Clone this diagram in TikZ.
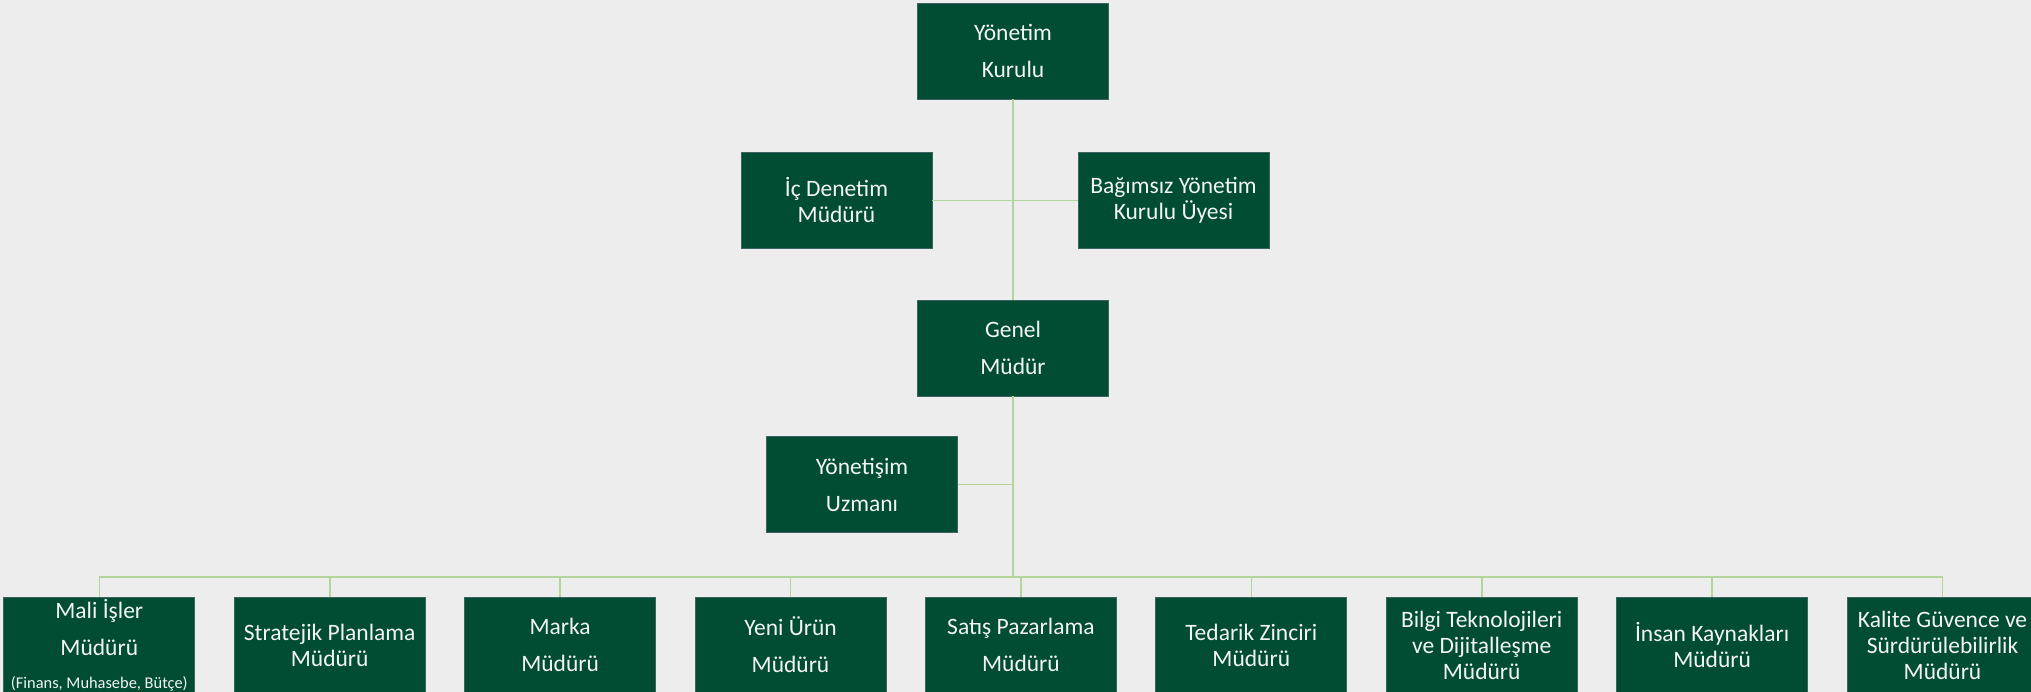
\documentclass[tikz,border=0pt]{standalone}
\usepackage{fontspec}
\setmainfont{Carlito}
\definecolor{boxgreen}{HTML}{004D33}
\definecolor{boxedge}{HTML}{3E6360}
\definecolor{linkgreen}{HTML}{B3D59B}
\definecolor{bgcol}{HTML}{EDEDED}
\definecolor{txtcol}{HTML}{F4F4F4}
\tikzset{
  orgbox/.style={draw=boxedge, line width=0.9pt, fill=boxgreen, text=txtcol,
    minimum width=191pt, minimum height=96pt, inner sep=0pt, align=center},
  tighttext/.style={font=\fontsize{23.5}{26}\selectfont},
  loosetext/.style={font=\fontsize{23.5}{37}\selectfont},
  link/.style={draw=linkgreen, line width=1.6pt}
}
\begin{document}
\begin{tikzpicture}[x=1pt,y=-1pt]
\fill[bgcol] (0,0) rectangle (2031,692);
\useasboundingbox (0,0) rectangle (2031,692);
\begin{scope}
\clip (0,0) rectangle (2031,692);
\coordinate (bus) at (1013,577);
\node[orgbox,loosetext] (yk) at (1013,51) {Yönetim\\Kurulu};
\node[orgbox,tighttext] (icd) at (836.5,200.5) {İç Denetim\\Müdürü};
\node[orgbox,tighttext] (bag) at (1173.5,200.5) {Bağımsız Yönetim\\Kurulu Üyesi};
\node[orgbox,loosetext] (gm) at (1013,348) {Genel\\Müdür};
\node[orgbox,loosetext] (ys) at (862,484.5) {Yönetişim\\Uzmanı};
\node[orgbox,loosetext] (b1) at (99.3,645) {Mali İşler\\Müdürü\\[-4pt]{\fontsize{16.4}{20}\selectfont (Finans, Muhasebe, Bütçe)}};
\node[orgbox,tighttext] (b2) at (329.7,645) {Stratejik Planlama\\Müdürü};
\node[orgbox,loosetext] (b3) at (560.1,645) {Marka\\Müdürü};
\node[orgbox,loosetext] (b4) at (790.5,645) {Yeni Ürün\\Müdürü};
\node[orgbox,loosetext] (b5) at (1020.9,645) {Satış Pazarlama\\Müdürü};
\node[orgbox,tighttext] (b6) at (1251.3,645) {Tedarik Zinciri\\Müdürü};
\node[orgbox,tighttext] (b7) at (1481.7,645) {Bilgi Teknolojileri\\ve Dijitalleşme\\Müdürü};
\node[orgbox,tighttext] (b8) at (1712.1,645) {İnsan Kaynakları\\Müdürü};
\node[orgbox,tighttext] (b9) at (1942.5,645) {Kalite Güvence ve\\Sürdürülebilirlik\\Müdürü};
\draw[link] (yk.south) -- (gm.north);
\draw[link] (icd.east) -- (bag.west);
\draw[link] (gm.south) -- (bus);
\draw[link] (ys.east) -- (ys.east -| gm.south);
\draw[link] (b1.north |- bus) -- (b9.north |- bus);
\foreach \b in {b1,b2,b3,b4,b5,b6,b7,b8,b9}{
  \draw[link] (\b.north |- bus) -- (\b.north);
}
\end{scope}
\end{tikzpicture}
\end{document}
